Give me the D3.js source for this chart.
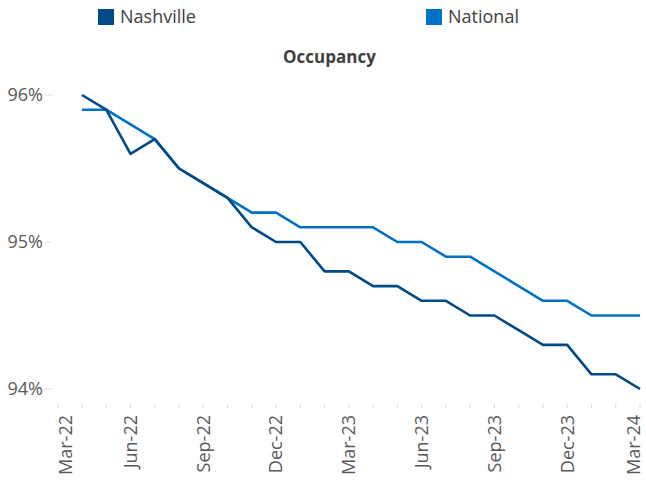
<!DOCTYPE html>
<html>
<head>
<meta charset="utf-8">
<script src="https://cdn.jsdelivr.net/npm/d3@7"></script>
<style>
  body { margin: 0; background: #fff; }
  text { font-family: "Open Sans", sans-serif; }
  .tick-label { fill: #595959; font-size: 18px; }
  .legend-label { fill: #404040; font-size: 18px; }
  .title { fill: #404040; font-size: 17px; font-weight: bold; }
  .line { fill: none; stroke-width: 2.6; stroke-linejoin: round; }
</style>
</head>
<body>
<script>
// months on the category axis (data starts Apr-22)
const months = ["Mar-22","Apr-22","May-22","Jun-22","Jul-22","Aug-22","Sep-22","Oct-22","Nov-22","Dec-22",
  "Jan-23","Feb-23","Mar-23","Apr-23","May-23","Jun-23","Jul-23","Aug-23","Sep-23","Oct-23","Nov-23","Dec-23",
  "Jan-24","Feb-24","Mar-24"];
const labelMonths = ["Mar-22","Jun-22","Sep-22","Dec-22","Mar-23","Jun-23","Sep-23","Dec-23","Mar-24"];

const nashville = [null, 96.0, 95.9, 95.6, 95.7, 95.5, 95.4, 95.3, 95.1, 95.0, 95.0, 94.8, 94.8,
  94.7, 94.7, 94.6, 94.6, 94.5, 94.5, 94.4, 94.3, 94.3, 94.1, 94.1, 94.0];
const national = [null, 95.9, 95.9, 95.8, 95.7, 95.5, 95.4, 95.3, 95.2, 95.2, 95.1, 95.1, 95.1,
  95.1, 95.0, 95.0, 94.9, 94.9, 94.8, 94.7, 94.6, 94.6, 94.5, 94.5, 94.5];
const yTicks = [94, 95, 96];

const width = 646, height = 480;
const colors = {nashville: "#004B87", national: "#0072C6"};

const svg = d3.select("body").append("svg")
  .attr("width", width)
  .attr("height", height);

const xScale = d3.scalePoint()
  .domain(months)
  .range([57.7, 640]);

const yScale = d3.scaleLinear()
  .domain([94, 96])
  .range([389, 95]);

// y axis: labels + small outside ticks, no axis line
const gY = svg.append("g");
gY.selectAll("line")
  .data(yTicks)
  .enter().append("line")
  .attr("x1", 46).attr("x2", 52)
  .attr("y1", d => yScale(d)).attr("y2", d => yScale(d))
  .attr("stroke", "#d9d9d9");
gY.selectAll("text")
  .data(yTicks)
  .enter().append("text")
  .attr("class", "tick-label")
  .attr("x", 43)
  .attr("y", d => yScale(d))
  .attr("dy", "0.35em")
  .attr("text-anchor", "end")
  .text(d => d + "%");

// x axis: monthly tick marks, quarterly rotated labels
// (first and last labels nudged inward to stay inside the chart, like excel does)
const gX = svg.append("g");
gX.selectAll("line")
  .data(months)
  .enter().append("line")
  .attr("x1", d => xScale(d)).attr("x2", d => xScale(d))
  .attr("y1", 404).attr("y2", 408)
  .attr("stroke", "#d9d9d9");
gX.selectAll("text")
  .data(labelMonths)
  .enter().append("text")
  .attr("class", "tick-label")
  .attr("text-anchor", "end")
  .attr("dy", "0.35em")
  .attr("transform", (d, i) => {
    let nudge = 0;
    if (i === 0) nudge = 8;
    if (i === labelMonths.length - 1) nudge = -6;
    return "translate(" + (xScale(d) + nudge) + ",415) rotate(-90)";
  })
  .text(d => d);

function lineFor(values, c) {
  const line = d3.line()
    .defined(d => d != null)
    .x((d, i) => xScale(months[i]))
    .y(d => yScale(d));
  svg.append("path")
    .datum(values)
    .attr("class", "line")
    .attr("stroke", c)
    .attr("d", line);
}
lineFor(national, colors.national);
lineFor(nashville, colors.nashville);

// title
svg.append("text")
  .attr("class", "title")
  .attr("x", 329.5)
  .attr("y", 62.5)
  .attr("text-anchor", "middle")
  .text("Occupancy");

// legend
const legend = svg.append("g");
function drawLegend(x, c, text) {
  legend.append("rect").attr("x", x).attr("y", 9).attr("width", 16).attr("height", 16).attr("fill", c);
  legend.append("text").attr("class", "legend-label").attr("x", x + 22).attr("y", 17).attr("dy", "0.35em").text(text);
}
drawLegend(98, colors.nashville, "Nashville");
drawLegend(426, colors.national, "National");
</script>
</body>
</html>
